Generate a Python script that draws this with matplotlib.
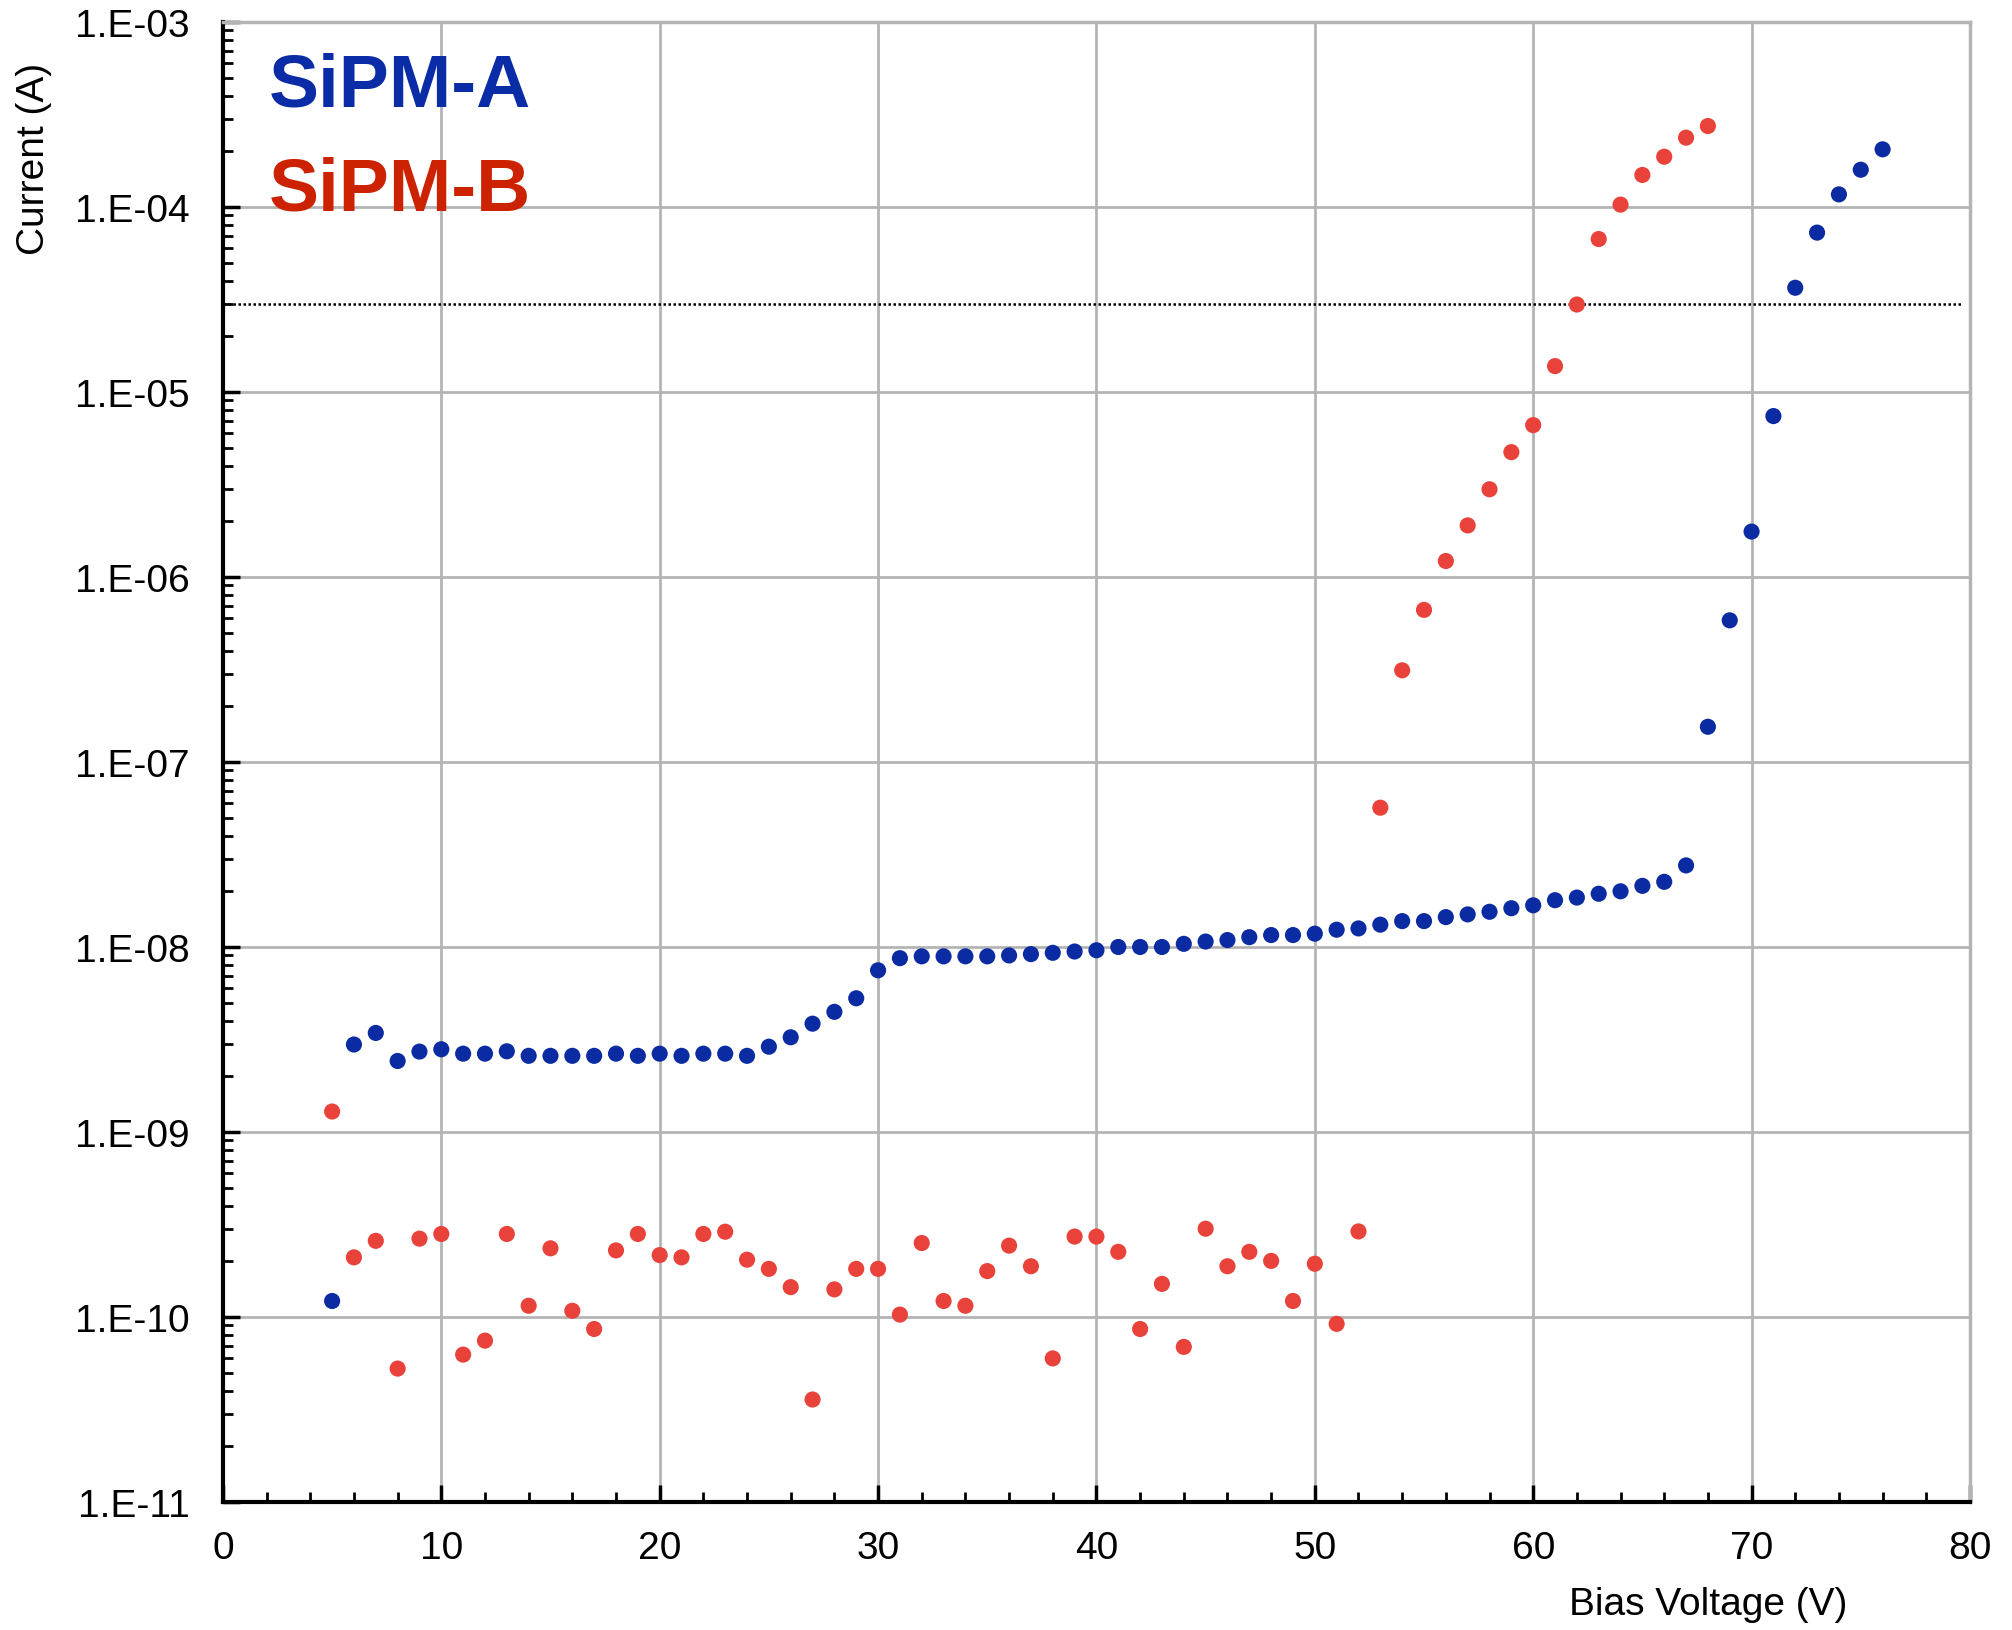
import numpy as np
import matplotlib
matplotlib.use("Agg")
import matplotlib.pyplot as plt
from matplotlib.ticker import FuncFormatter, MultipleLocator, LogLocator, NullFormatter

plt.rcParams['font.family'] = ['Liberation Sans', 'DejaVu Sans']

# SiPM-A (blue)
volt_a = list(range(5, 77))
curr_a = [1.22e-10, 2.97e-9, 3.43e-9, 2.42e-9, 2.72e-9, 2.80e-9, 2.65e-9, 2.65e-9, 2.73e-9, 2.58e-9,
          2.58e-9, 2.58e-9, 2.58e-9, 2.65e-9, 2.58e-9, 2.65e-9, 2.58e-9, 2.65e-9, 2.65e-9, 2.58e-9,
          2.89e-9, 3.25e-9, 3.85e-9, 4.46e-9, 5.28e-9, 7.48e-9, 8.70e-9, 8.9e-9, 8.9e-9, 8.9e-9,
          8.9e-9, 9.0e-9, 9.15e-9, 9.3e-9, 9.45e-9, 9.6e-9, 1.0e-8, 1.0e-8, 1.0e-8, 1.04e-8,
          1.07e-8, 1.09e-8, 1.13e-8, 1.16e-8, 1.16e-8, 1.18e-8, 1.24e-8, 1.26e-8, 1.32e-8, 1.38e-8,
          1.38e-8, 1.45e-8, 1.50e-8, 1.55e-8, 1.62e-8, 1.68e-8, 1.79e-8, 1.85e-8, 1.94e-8, 2.00e-8,
          2.14e-8, 2.25e-8, 2.76e-8, 1.55e-7, 5.83e-7, 1.76e-6, 7.41e-6, 3.66e-5, 7.27e-5, 1.17e-4,
          1.59e-4, 2.05e-4]

# SiPM-B (red)
volt_b = list(range(5, 69))
curr_b = [1.29e-9, 2.10e-10, 2.58e-10, 5.26e-11, 2.65e-10, 2.81e-10, 6.26e-11, 7.45e-11, 2.81e-10, 1.15e-10,
          2.35e-10, 1.08e-10, 8.61e-11, 2.29e-10, 2.81e-10, 2.16e-10, 2.10e-10, 2.81e-10, 2.89e-10, 2.04e-10,
          1.82e-10, 1.45e-10, 3.58e-11, 1.41e-10, 1.82e-10, 1.82e-10, 1.03e-10, 2.51e-10, 1.22e-10, 1.15e-10,
          1.77e-10, 2.43e-10, 1.88e-10, 5.97e-11, 2.72e-10, 2.72e-10, 2.25e-10, 8.61e-11, 1.51e-10, 6.89e-11,
          3.00e-10, 1.88e-10, 2.25e-10, 2.01e-10, 1.22e-10, 1.94e-10, 9.18e-11, 2.90e-10, 5.66e-8, 3.13e-7,
          6.64e-7, 1.22e-6, 1.90e-6, 2.98e-6, 4.73e-6, 6.62e-6, 1.38e-5, 2.97e-5, 6.71e-5, 1.03e-4,
          1.49e-4, 1.87e-4, 2.37e-4, 2.74e-4]

threshold = 3.0e-5
label_a = "SiPM-A"
label_b = "SiPM-B"
x_label = "Bias Voltage (V)"
y_label = "Current (A)"

fig = plt.figure(figsize=(20.12, 16.31), dpi=100)
ax = fig.add_axes([0.1108, 0.0785, 0.8683, 0.9074])

ax.set_yscale('log')
ax.set_xlim(0, 80)
ax.set_ylim(1e-11, 1e-3)

ax.grid(True, which='major', color='#b4b4b4', linewidth=2.0)
ax.set_axisbelow(True)

ax.hlines(threshold, 0, 79.7, colors='black', linestyles=(0, (1, 1)), linewidth=1.8, zorder=2)

ax.scatter(volt_a, curr_a, s=135, color='#0b2ba3', edgecolors='none', zorder=3)
ax.scatter(volt_b, curr_b, s=135, color='#e8423a', edgecolors='none', zorder=3)

ax.xaxis.set_major_locator(MultipleLocator(10))
ax.xaxis.set_minor_locator(MultipleLocator(2))
ax.yaxis.set_major_locator(LogLocator(base=10, numticks=20))
ax.yaxis.set_minor_locator(LogLocator(base=10, subs=np.arange(2, 10), numticks=100))
ax.yaxis.set_minor_formatter(NullFormatter())
ax.yaxis.set_major_formatter(FuncFormatter(lambda v, p: "1.E%+03d" % int(round(np.log10(v)))))

ax.tick_params(axis='both', which='major', direction='in', length=12, width=2.5, labelsize=28, color='black')
ax.tick_params(axis='both', which='minor', direction='in', length=7, width=2.0, color='black')
ax.tick_params(axis='y', which='major', pad=24)
ax.tick_params(axis='x', which='major', pad=20)

for s in ['left', 'bottom']:
    ax.spines[s].set_color('black')
    ax.spines[s].set_linewidth(3)
for s in ['top', 'right']:
    ax.spines[s].set_color('#b4b4b4')
    ax.spines[s].set_linewidth(2.5)

ax.text(0.9296, -0.0757, x_label, transform=ax.transAxes, fontsize=28,
        ha='right', va='baseline')
fig.text(34.5 / 2012, 1 - 63 / 1631, y_label, fontsize=28, rotation=90,
         ha='center', va='top')

ax.text(0.026, 0.9439, label_a, transform=ax.transAxes, fontsize=54, fontweight='bold',
        color='#0a2ca6', ha='left', va='baseline')
ax.text(0.026, 0.8736, label_b, transform=ax.transAxes, fontsize=54, fontweight='bold',
        color='#cc2200', ha='left', va='baseline')

fig.savefig('out.png', dpi=100)
